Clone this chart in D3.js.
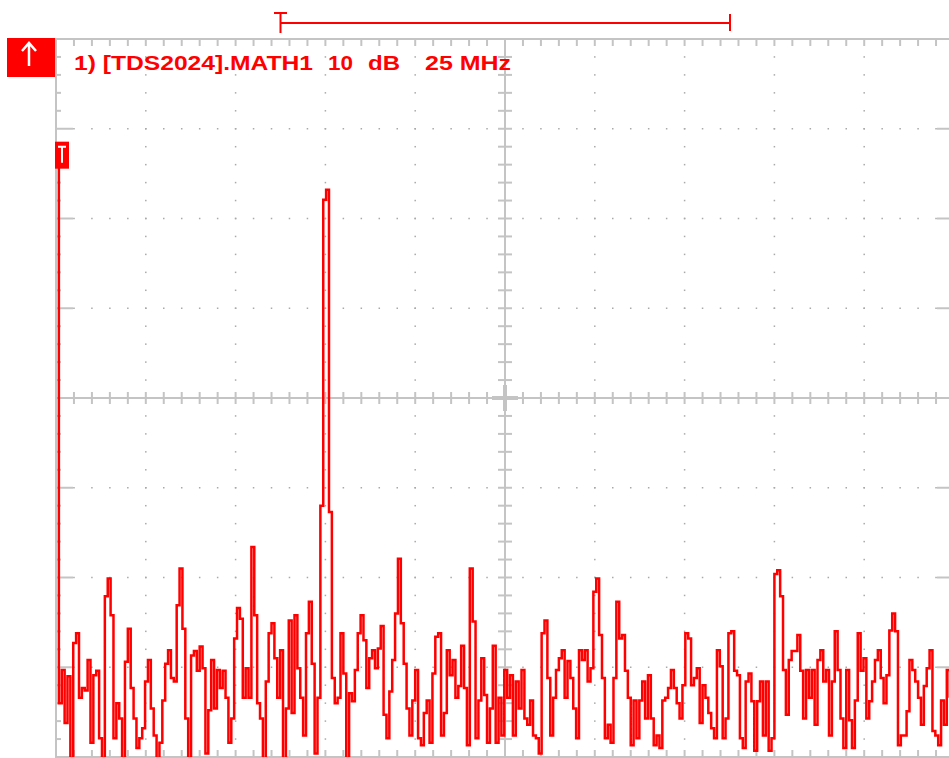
<!DOCTYPE html>
<html>
<head>
<meta charset="utf-8">
<script src="https://cdn.jsdelivr.net/npm/d3@7/dist/d3.min.js"></script>
<style>
html,body{margin:0;padding:0;background:#fff;overflow:hidden;}
svg{display:block;}
</style>
</head>
<body>
<script>
// ---- data ----
const spanMHz = [0, 250];          // 10 div x 25 MHz
const levelRangeDb = [-67, 13];    // 8 div x 10 dB
const binStepMHz = 0.8;
const labelParts = ["1) [TDS2024].MATH1", "10", "dB", "25 MHz"];
const levelsDb = [
  0, -61.0, -57.3, -63.2, -58.0, -68, -54.3, -53.2, -60.4, -59.3,
  -59.6, -56.2, -65.4, -57.9, -57.4, -64.9, -68, -49.1, -47.1, -51.2,
  -64.9, -61.0, -62.7, -68, -56.4, -52.7, -59.3, -62.7, -66.0, -64.9,
  -63.8, -58.6, -56.2, -61.6, -64.6, -68, -65.4, -60.7, -56.6, -55.1,
  -58.2, -58.6, -50.1, -46.0, -52.7, -62.7, -68, -55.7, -55.2, -57.4,
  -54.7, -57.1, -66.6, -61.8, -56.2, -61.6, -57.3, -59.3, -57.4, -60.4,
  -65.4, -62.7, -53.8, -50.4, -51.6, -60.4, -57.1, -60.4, -43.6, -51.2,
  -61.0, -62.7, -68, -58.6, -53.2, -52.1, -56.0, -60.4, -55.1, -68,
  -61.6, -51.8, -62.1, -51.2, -57.1, -60.4, -64.6, -53.2, -49.7, -56.6,
  -66.6, -60.4, -39.0, -4.9, -3.8, -39.7, -58.2, -61.0, -60.4, -53.2,
  -57.7, -68, -59.9, -60.8, -57.3, -53.2, -51.2, -54.0, -59.3, -56.0,
  -55.1, -57.1, -54.9, -52.4, -62.3, -64.9, -59.7, -56.2, -51.0, -44.9,
  -52.1, -56.6, -61.6, -64.6, -60.7, -57.3, -64.9, -65.7, -62.1, -60.7,
  -65.4, -57.7, -53.6, -53.2, -64.6, -62.1, -55.1, -57.9, -56.2, -60.4,
  -59.1, -54.6, -59.3, -65.7, -46.0, -51.9, -64.9, -60.7, -56.0, -60.1,
  -65.4, -61.6, -54.6, -65.4, -60.4, -64.6, -57.3, -60.4, -57.9, -64.6,
  -58.6, -61.6, -57.3, -62.7, -63.4, -60.7, -64.6, -64.9, -66.6, -53.2,
  -51.8, -58.2, -64.6, -60.4, -57.3, -56.0, -55.1, -60.4, -56.3, -58.2,
  -61.6, -64.9, -55.1, -56.2, -55.1, -58.6, -57.1, -48.6, -47.1, -53.4,
  -58.2, -64.9, -63.4, -65.4, -58.2, -49.7, -53.8, -53.4, -57.4, -60.4,
  -65.7, -60.7, -64.9, -60.7, -58.6, -62.7, -57.9, -62.7, -65.7, -64.6,
  -66.0, -60.7, -60.4, -59.3, -57.3, -59.3, -61.0, -62.7, -59.0, -53.2,
  -53.8, -59.0, -58.2, -57.1, -63.2, -59.0, -60.4, -62.1, -63.8, -64.9,
  -55.1, -56.9, -64.9, -62.7, -53.2, -53.0, -57.4, -57.9, -64.9, -66.0,
  -58.6, -57.7, -60.8, -66.3, -60.8, -58.6, -64.6, -58.6, -66.3, -64.9,
  -46.6, -46.2, -49.1, -57.3, -62.3, -56.2, -55.2, -55.2, -53.4, -57.4,
  -62.7, -57.3, -60.4, -57.3, -63.4, -56.2, -55.1, -58.6, -57.3, -64.6,
  -58.6, -53.0, -57.3, -62.7, -66.0, -57.3, -62.9, -66.0, -60.7, -53.2,
  -57.4, -56.0, -62.7, -60.8, -58.6, -56.2, -55.1, -58.2, -61.0, -57.9,
  -52.9, -51.0, -53.0, -65.7, -64.6, -64.6, -61.9, -56.2, -57.3, -58.6,
  -60.4, -63.4, -59.1, -57.1, -55.1, -64.1, -64.6, -65.7, -60.7, -63.4,
  -57.3, -60.4
];
const freqMHz = levelsDb.map((_, i) => i * binStepMHz);

// ---- layout ----
const W = 949, H = 758;
const plot = {left: 56, right: 954, top: 39, bottom: 757};
const gridCol = "#c4c4c4", dotCol = "#a9a9a9", red = "#ff0000";

const x = d3.scaleLinear().domain(spanMHz).range([plot.left, plot.right]);
const y = d3.scaleLinear().domain(levelRangeDb).range([plot.bottom, plot.top]);

const svg = d3.select("body").append("svg").attr("width", W).attr("height", H);

const xMajor = d3.range(spanMHz[0], spanMHz[1] + 0.001, 25);
const xMinor = d3.range(spanMHz[0], spanMHz[1] + 0.001, 5);
const yMajor = d3.range(levelRangeDb[1], levelRangeDb[0] - 0.001, -10);
const yMinor = d3.range(levelRangeDb[1], levelRangeDb[0] - 0.001, -2);
const xCenter = (spanMHz[0] + spanMHz[1]) / 2;
const yCenter = (levelRangeDb[0] + levelRangeDb[1]) / 2;

const g = svg.append("g");

// dotted major gridlines
xMajor.slice(1, -1).forEach(f => {
  if (f === xCenter) return;
  yMinor.slice(1, -1).forEach(v => {
    g.append("rect").attr("x", x(f) - 0.75).attr("y", y(v) - 0.75)
      .attr("width", 1.5).attr("height", 1.5).attr("fill", dotCol);
  });
});
yMajor.slice(1, -1).forEach(v => {
  if (v === yCenter) return;
  xMinor.slice(1, -1).forEach(f => {
    g.append("rect").attr("x", x(f) - 0.75).attr("y", y(v) - 0.75)
      .attr("width", 1.5).attr("height", 1.5).attr("fill", dotCol);
  });
});

// border
g.append("rect").attr("x", plot.left).attr("y", plot.top)
  .attr("width", plot.right - plot.left).attr("height", plot.bottom - plot.top)
  .attr("fill", "none").attr("stroke", gridCol).attr("stroke-width", 2);

// border ticks
xMinor.forEach(f => {
  g.append("line").attr("x1", x(f)).attr("x2", x(f)).attr("y1", plot.top).attr("y2", plot.top + 7)
    .attr("stroke", gridCol).attr("stroke-width", 2);
  g.append("line").attr("x1", x(f)).attr("x2", x(f)).attr("y1", plot.bottom).attr("y2", plot.bottom - 7)
    .attr("stroke", gridCol).attr("stroke-width", 2);
});
yMinor.forEach(v => {
  const isMaj = yMajor.includes(v);
  const len = isMaj ? 17 : 5;
  g.append("line").attr("x1", plot.left).attr("x2", plot.left + len).attr("y1", y(v)).attr("y2", y(v))
    .attr("stroke", gridCol).attr("stroke-width", 2);
  g.append("line").attr("x1", plot.right).attr("x2", plot.right - len).attr("y1", y(v)).attr("y2", y(v))
    .attr("stroke", gridCol).attr("stroke-width", 2);
});

// center cross with ticks
g.append("line").attr("x1", plot.left).attr("x2", plot.right).attr("y1", y(yCenter)).attr("y2", y(yCenter))
  .attr("stroke", gridCol).attr("stroke-width", 2);
g.append("line").attr("x1", x(xCenter)).attr("x2", x(xCenter)).attr("y1", plot.top).attr("y2", plot.bottom)
  .attr("stroke", gridCol).attr("stroke-width", 2);
xMinor.forEach(f => {
  g.append("line").attr("x1", x(f)).attr("x2", x(f)).attr("y1", y(yCenter) - 6).attr("y2", y(yCenter) + 6)
    .attr("stroke", gridCol).attr("stroke-width", 2);
});
yMinor.forEach(v => {
  g.append("line").attr("x1", x(xCenter) - 7).attr("x2", x(xCenter) + 7).attr("y1", y(v)).attr("y2", y(v))
    .attr("stroke", gridCol).attr("stroke-width", 2);
});
g.append("line").attr("x1", x(xCenter) - 13).attr("x2", x(xCenter) + 13).attr("y1", y(yCenter)).attr("y2", y(yCenter))
  .attr("stroke", gridCol).attr("stroke-width", 4);
g.append("line").attr("x1", x(xCenter)).attr("x2", x(xCenter)).attr("y1", y(yCenter) - 13).attr("y2", y(yCenter) + 13)
  .attr("stroke", gridCol).attr("stroke-width", 4);

// trace
svg.append("clipPath").attr("id", "clip").append("rect")
  .attr("x", plot.left).attr("y", plot.top).attr("width", plot.right - plot.left).attr("height", plot.bottom - plot.top);
const line = d3.line().x((d, i) => x(freqMHz[i])).y(d => y(d)).curve(d3.curveStepAfter);
svg.append("path").datum(levelsDb).attr("d", line).attr("clip-path", "url(#clip)")
  .attr("fill", "none").attr("stroke", red).attr("stroke-width", 2.5).attr("stroke-linejoin", "miter");

// channel reference marker (0 dB)
const refY = y(0);
svg.append("rect").attr("x", 55).attr("y", refY - 14).attr("width", 14).attr("height", 27).attr("fill", red);
svg.append("path").attr("d", `M58,${refY - 9} H66 M62,${refY - 9} V${refY + 7}`)
  .attr("stroke", "#fff").attr("stroke-width", 2).attr("fill", "none");

// top-left channel box with arrow
svg.append("rect").attr("x", 7).attr("y", 38).attr("width", 48).attr("height", 39).attr("fill", red);
svg.append("path").attr("d", "M29,66 V43 M22,51 L29,43 L36,51")
  .attr("stroke", "#fff").attr("stroke-width", 2.5).attr("fill", "none");

// label
const labelX = [74, 328, 368, 425];
const labelW = [239, 25, 32, 86];
labelParts.forEach((t, i) => {
  svg.append("text").attr("x", labelX[i]).attr("y", 70)
    .attr("textLength", labelW[i]).attr("lengthAdjust", "spacingAndGlyphs")
    .attr("font-family", "Liberation Sans, Arial, sans-serif").attr("font-weight", "bold")
    .attr("font-size", 20).attr("fill", red).text(t);
});

// top span marker
svg.append("path").attr("d", "M274,13 H287 M280.5,13 V33 M280.5,23 H730 M730,14 V31")
  .attr("stroke", red).attr("stroke-width", 2).attr("fill", "none");
</script>
</body>
</html>
